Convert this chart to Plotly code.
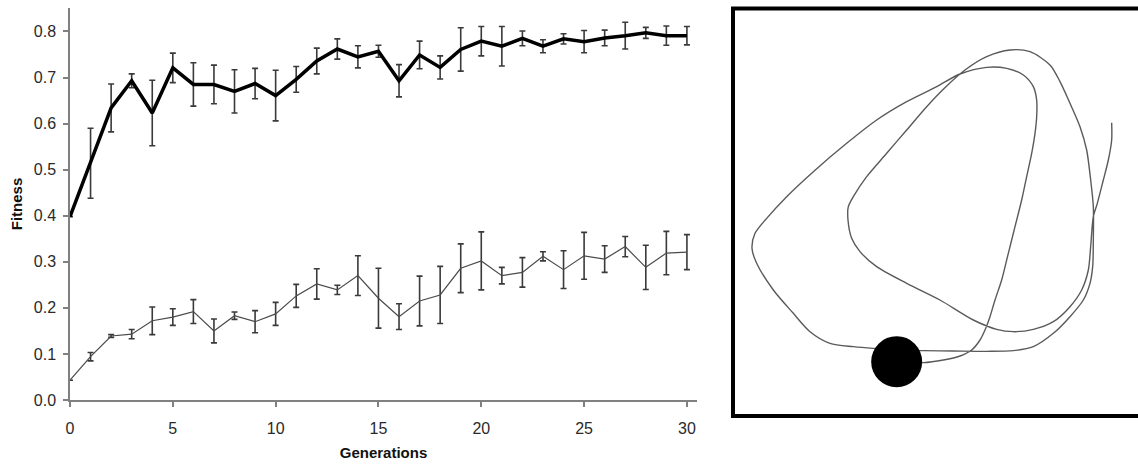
import plotly.graph_objects as go

# ---------------- data ----------------
generations = list(range(31))
fitness_top = [0.398, 0.514, 0.634, 0.693, 0.623, 0.721, 0.685, 0.685, 0.670, 0.687,
               0.661, 0.696, 0.736, 0.762, 0.745, 0.757, 0.693, 0.749, 0.722, 0.761,
               0.779, 0.768, 0.785, 0.768, 0.784, 0.778, 0.786, 0.791, 0.797, 0.791, 0.791]
err_top = [0.0, 0.076, 0.052, 0.015, 0.071, 0.032, 0.047, 0.042, 0.047, 0.033,
           0.055, 0.028, 0.028, 0.022, 0.024, 0.013, 0.035, 0.030, 0.025, 0.047,
           0.032, 0.043, 0.016, 0.014, 0.011, 0.024, 0.017, 0.029, 0.012, 0.021, 0.020]
fitness_bottom = [0.043, 0.094, 0.139, 0.143, 0.172, 0.180, 0.192, 0.150, 0.183, 0.170,
                  0.187, 0.226, 0.252, 0.239, 0.270, 0.221, 0.181, 0.215, 0.228, 0.286,
                  0.302, 0.270, 0.277, 0.312, 0.283, 0.313, 0.306, 0.333, 0.288, 0.319, 0.321]
err_bottom = [0.0, 0.009, 0.003, 0.010, 0.030, 0.018, 0.026, 0.026, 0.008, 0.024,
              0.025, 0.025, 0.033, 0.010, 0.043, 0.065, 0.028, 0.054, 0.062, 0.053,
              0.063, 0.018, 0.032, 0.010, 0.041, 0.051, 0.029, 0.022, 0.048, 0.047, 0.038]

x_tickvals = [0, 5, 10, 15, 20, 25, 30]
y_tickvals = [0.0, 0.1, 0.2, 0.3, 0.4, 0.5, 0.6, 0.7, 0.8]
y_ticktext = ["0.0", "0.1", "0.2", "0.3", "0.4", "0.5", "0.6", "0.7", "0.8"]

# robot trajectory in the arena (arena units, y downwards)
traj_x = [1175, 1175, 1165, 1150, 1132, 1120, 1112, 1105, 1085, 1050, 1000, 940, 880, 830,
          760, 660, 560, 470, 420, 395, 384, 385, 400, 440, 500, 560, 620, 680, 735,
          800, 870, 930, 990, 1020, 1050, 1080, 1100, 1112, 1120, 1120, 1118, 1110, 1090,
          1050, 1000, 940, 880, 800, 700, 610, 560, 500, 460, 400, 330, 270, 220, 160, 110,
          96, 105, 140, 200, 280, 380, 470, 560, 650, 720, 800, 860, 910, 940, 950, 950,
          945, 935, 920, 905, 885, 865, 845, 825, 810, 795, 780, 755, 720, 670, 610, 530]
traj_y = [368, 420, 480, 540, 610, 650, 740, 810, 870, 920, 965, 988, 995, 988,
          960, 900, 850, 800, 755, 715, 660, 620, 590, 530, 460, 390, 320, 258, 210,
          170, 150, 155, 195, 245, 310, 380, 450, 540, 620, 720, 800, 850, 900,
          950, 1000, 1040, 1052, 1054, 1053, 1052, 1050, 1047, 1045, 1040, 1030, 995, 940, 870, 790,
          745, 700, 655, 590, 515, 430, 360, 305, 260, 222, 202, 205, 225, 260, 300, 350,
          400, 460, 530, 600, 680, 760, 840, 900, 950, 990, 1020, 1050, 1068, 1080, 1088, 1085]
ball_x = [530]
ball_y = [1085]

# ---------------- figure ----------------
W, H = 1170, 466          # a little wider than the window so the arena frame runs off the edge
fig = go.Figure()

fig.add_trace(go.Scatter(
    x=generations, y=fitness_bottom, mode="lines",
    line=dict(color="#4a4a4a", width=1.2),
    error_y=dict(type="data", array=err_bottom, visible=True,
                 color="#3a3a3a", thickness=1.6, width=3),
    xaxis="x", yaxis="y", showlegend=False))

fig.add_trace(go.Scatter(
    x=generations, y=fitness_top, mode="lines",
    line=dict(color="#000000", width=3.5),
    error_y=dict(type="data", array=err_top, visible=True,
                 color="#3a3a3a", thickness=1.6, width=3),
    xaxis="x", yaxis="y", showlegend=False))

fig.add_trace(go.Scatter(
    x=traj_x, y=traj_y, mode="lines",
    line=dict(color="#5a5a5a", width=1.4, shape="spline", smoothing=0.8),
    xaxis="x2", yaxis="y2", showlegend=False))

fig.add_trace(go.Scatter(
    x=ball_x, y=ball_y, mode="markers",
    marker=dict(color="black", size=51, line=dict(width=0)),
    xaxis="x2", yaxis="y2", showlegend=False))

axis_col = "#808080"
font_col = "#2a2a2a"

arena_px0 = 720
arena_units = (W - arena_px0) * 3

fig.update_layout(
    width=W, height=H,
    margin=dict(l=0, r=0, t=0, b=0),
    paper_bgcolor="white", plot_bgcolor="white",
    font=dict(family="Liberation Sans, Arial, sans-serif", size=16, color=font_col),
    xaxis=dict(domain=[70 / W, 697 / W], range=[0, 30.49],
               tickvals=x_tickvals, ticks="outside", ticklen=5, tickwidth=1.5,
               tickcolor=axis_col, showline=True, linecolor=axis_col, linewidth=1.5,
               showgrid=False, zeroline=False, anchor="y",
               tickfont=dict(size=16, color=font_col), ticklabelstandoff=8,
               title=dict(text="<b>Generations</b>", standoff=12,
                          font=dict(size=15, color="#111111")),
               automargin=False),
    yaxis=dict(domain=[1 - 400 / H, 1 - 8 / H], range=[0, 0.851],
               tickvals=y_tickvals, ticktext=y_ticktext,
               ticks="outside", ticklen=5, tickwidth=1.5,
               tickcolor=axis_col, showline=True, linecolor=axis_col, linewidth=1.5,
               showgrid=False, zeroline=False, anchor="x",
               tickfont=dict(size=16, color=font_col), ticklabelstandoff=4,
               title=dict(text="<b>Fitness</b>", standoff=8,
                          font=dict(size=15, color="#111111")),
               automargin=False),
    xaxis2=dict(domain=[arena_px0 / W, 1.0], range=[0, arena_units], visible=False,
                showgrid=False, zeroline=False, anchor="y2", fixedrange=True),
    yaxis2=dict(domain=[0.0, 1.0], range=[H * 3, 0], visible=False,
                showgrid=False, zeroline=False, anchor="x2", fixedrange=True),
)

# arena frame: open on the right (cut off by the image edge)
xl = 733 / W
yt = 1 - 8.5 / H
yb = 1 - 416 / H
fig.add_shape(type="path", xref="paper", yref="paper",
              path=f"M 1.0,{yt} L {xl},{yt} L {xl},{yb} L 1.0,{yb}",
              line=dict(color="black", width=4), layer="below")

fig.write_html("out.html",
               config={"displayModeBar": False},
               post_script="document.body.style.margin='0';document.body.style.overflow='hidden';")
